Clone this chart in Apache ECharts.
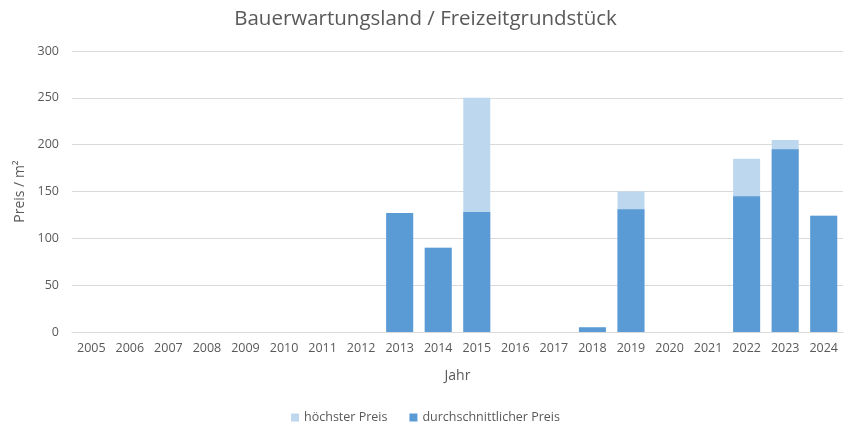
<!DOCTYPE html>
<html><head><meta charset="utf-8">
<script src="https://cdn.jsdelivr.net/npm/echarts@6/dist/echarts.min.js"></script>
<style>html,body{margin:0;padding:0;background:#fff}#c{width:851px;height:437px}</style>
</head><body><div id="c"></div>
<script>
const years = ['2005','2006','2007','2008','2009','2010','2011','2012','2013','2014','2015','2016','2017','2018','2019','2020','2021','2022','2023','2024'];
const hoechsterPreis = [null,null,null,null,null,null,null,null,127,90,250,null,null,5,150,null,null,185,205,124];
const durchschnittPreis = [null,null,null,null,null,null,null,null,127,90,128,null,null,5,131,null,null,145,195,124];
const yTicks = [0,50,100,150,200,250,300];

const chart = echarts.init(document.getElementById('c'));
const font = 'Open Sans';
chart.setOption({
  animation:false,
  title:{text:'Bauerwartungsland / Freizeitgrundstück',left:'center',top:4,
    textStyle:{fontFamily:font,fontSize:20.5,fontWeight:'normal',color:'#595959'}},
  grid:{left:72,right:8,top:51,bottom:105},
  legend:{bottom:8,left:'center',itemWidth:8,itemHeight:8,itemGap:22,icon:'rect',
    textStyle:{fontFamily:font,fontSize:12.5,color:'#595959'},
    data:['höchster Preis','durchschnittlicher Preis']},
  xAxis:{type:'category',data:years,name:'Jahr',nameLocation:'middle',nameGap:37,
    nameTextStyle:{fontFamily:font,fontSize:14,color:'#595959'},
    axisLine:{lineStyle:{color:'#d9d9d9'}},axisTick:{show:false},
    axisLabel:{fontFamily:font,fontSize:12.5,color:'#595959',margin:10,interval:0}},
  yAxis:{type:'value',min:yTicks[0],max:yTicks[yTicks.length-1],interval:50,
    name:'Preis / m²',nameLocation:'middle',nameGap:43,nameRotate:90,
    nameTextStyle:{fontFamily:font,fontSize:14,color:'#595959'},
    axisLine:{show:false},axisTick:{show:false},
    axisLabel:{fontFamily:font,fontSize:12.5,color:'#595959',margin:13},
    splitLine:{lineStyle:{color:'#d9d9d9'}}},
  series:[
    {name:'höchster Preis',type:'bar',data:hoechsterPreis,barCategoryGap:'30%',barGap:'-100%',
      itemStyle:{color:'#BDD7EE'}},
    {name:'durchschnittlicher Preis',type:'bar',data:durchschnittPreis,barCategoryGap:'30%',barGap:'-100%',
      itemStyle:{color:'#5B9BD5'}}
  ]
});
</script></body></html>
